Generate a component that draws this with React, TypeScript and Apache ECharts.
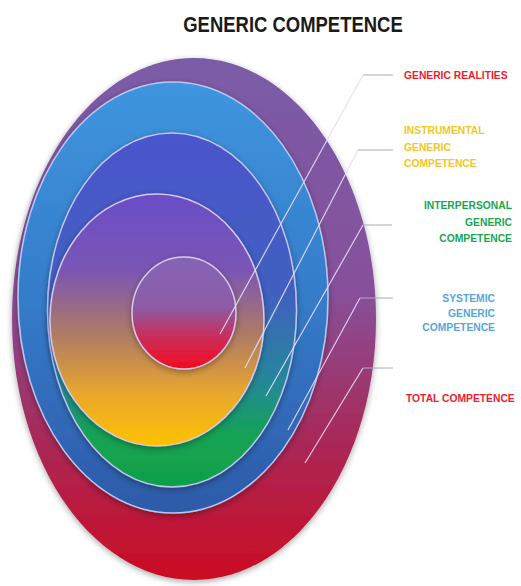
import React, { useEffect, useRef } from "react";
import * as echarts from "echarts";

const title = "GENERIC COMPETENCE";
const ringNames = [
  "TOTAL COMPETENCE",
  "SYSTEMIC GENERIC COMPETENCE",
  "INTERPERSONAL GENERIC COMPETENCE",
  "INSTRUMENTAL GENERIC COMPETENCE",
  "GENERIC REALITIES",
];
const labelTexts = [
  "GENERIC REALITIES",
  "INSTRUMENTAL\nGENERIC\nCOMPETENCE",
  "INTERPERSONAL\nGENERIC\nCOMPETENCE",
  "SYSTEMIC\nGENERIC\nCOMPETENCE",
  "TOTAL COMPETENCE",
];
const labelColors = ["#ee1c2e", "#f5c623", "#1aa650", "#55a6da", "#ee1c2e"];

// ring geometry (outer -> inner)
const rings = [
  { cx: 194, cy: 319, rx: 182, ry: 261, stops: [[0, "#7a5ca8"], [0.45, "#87509a"], [0.72, "#a72a5a"], [1, "#cc0c22"]], stroke: null },
  { cx: 173, cy: 297.5, rx: 155, ry: 215.5, stops: [[0, "#3f95de"], [0.5, "#357cca"], [1, "#2d5aa8"]], stroke: "#b9c8f2" },
  { cx: 172, cy: 310, rx: 124.5, ry: 177, stops: [[0, "#4b55cc"], [0.45, "#4060c0"], [0.7, "#25879a"], [0.86, "#14a352"], [1, "#10a04a"]], stroke: "#c4c4f2" },
  { cx: 157, cy: 320, rx: 107, ry: 126, stops: [[0, "#6a4ec8"], [0.3, "#7a55b4"], [0.55, "#ad7a66"], [0.8, "#eaa82c"], [1, "#ffc200"]], stroke: "#d6c8ee" },
  { cx: 184, cy: 313, rx: 52, ry: 56, stops: [[0, "#8565b6"], [0.45, "#8c5ba4"], [0.7, "#c8305c"], [1, "#f40a1e"]], stroke: "#d8c6ee" },
];

const leaders = [
  { from: [220, 334], bend: [363, 75], end: [393, 75] },
  { from: [245, 368], bend: [358, 150], end: [393, 150] },
  { from: [266, 396], bend: [363, 225], end: [392, 225] },
  { from: [288, 430], bend: [360, 298], end: [393, 298] },
  { from: [305, 463], bend: [363, 368], end: [393, 368] },
];

const labelPos = [
  { x: 404, y: 75, align: "left", lh: 16 },
  { x: 404, y: 147, align: "left", lh: 16.5 },
  { x: 512, y: 222, align: "right", lh: 16.5 },
  { x: 495, y: 313, align: "right", lh: 14.5 },
  { x: 406, y: 398, align: "left", lh: 16 },
];

export default function App() {
  const ref = useRef<HTMLDivElement>(null);
  useEffect(() => {
    if (!ref.current) return;
    const chart = echarts.init(ref.current, null, { renderer: "svg" });
    const elements: any[] = [];
    rings.forEach((r, i) => {
      elements.push({
        type: "ellipse",
        name: ringNames[i],
        shape: { cx: r.cx, cy: r.cy, rx: r.rx, ry: r.ry },
        style: {
          fill: new echarts.graphic.LinearGradient(
            0, 0, 0, 1,
            r.stops.map((s) => ({ offset: s[0] as number, color: s[1] as string }))
          ),
          stroke: r.stroke || "none",
          lineWidth: r.stroke ? 1.5 : 0,
          shadowBlur: 6,
          shadowColor: "rgba(0,0,0,0.35)",
          shadowOffsetY: 2,
        },
        z: 10 + i,
      });
    });
    leaders.forEach((l, i) => {
      elements.push({
        type: "polyline",
        shape: { points: [l.from, l.bend] },
        style: { stroke: "rgba(228,220,248,0.9)", lineWidth: 1.2, fill: "none" },
        z: 30,
      });
      elements.push({
        type: "line",
        shape: { x1: l.bend[0], y1: l.bend[1], x2: l.end[0], y2: l.end[1] },
        style: { stroke: "#a9a9c4", lineWidth: 1 },
        z: 30,
      });
      const p = labelPos[i];
      elements.push({
        type: "text",
        x: p.x,
        y: p.y,
        style: {
          text: labelTexts[i],
          fill: labelColors[i],
          fontSize: 10.3,
          fontWeight: "bold",
          fontFamily: "Liberation Sans, sans-serif",
          align: p.align,
          verticalAlign: "middle",
          lineHeight: p.lh,
        },
        z: 40,
      });
    });
    elements.push({
      type: "text",
      x: 293,
      y: 24,
      scaleX: 0.84,
      style: {
        text: title,
        fill: "#1a1a1a",
        fontSize: 22,
        fontWeight: 900,
        fontFamily: "Liberation Sans, sans-serif",
        align: "center",
        verticalAlign: "middle",
      },
      z: 40,
    });
    chart.setOption({
      animation: false,
      backgroundColor: "#ffffff",
      graphic: { elements },
    });
    return () => chart.dispose();
  }, []);
  return (
    <div
      ref={ref}
      style={{ position: "fixed", left: 0, top: 0, width: 521, height: 586 }}
    />
  );
}
